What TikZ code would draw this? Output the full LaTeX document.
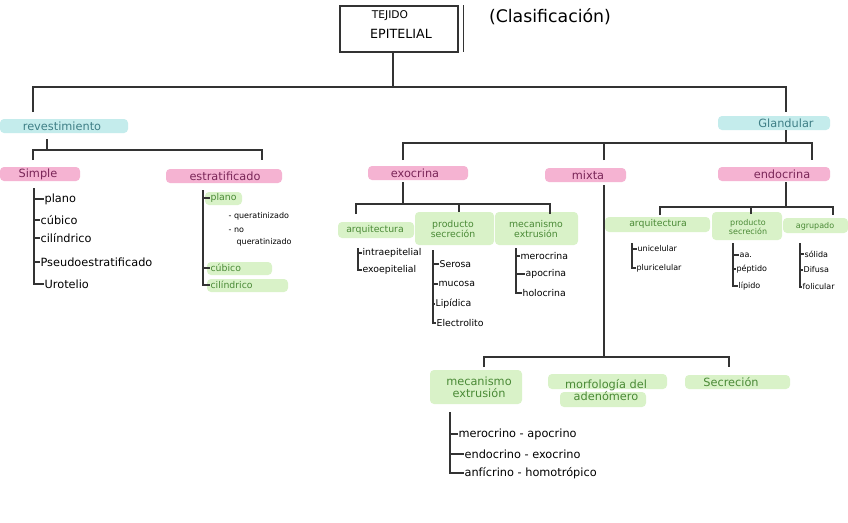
\documentclass[tikz,border=0pt]{standalone}
\usepackage{fontspec}
\setmainfont{DejaVu Sans}
\definecolor{cyb}{HTML}{C4ECEC}
\definecolor{pkb}{HTML}{F5B3D2}
\definecolor{grb}{HTML}{D9F2C8}
\definecolor{cyt}{HTML}{3F7F86}
\definecolor{pkt}{HTML}{7A2658}
\definecolor{grt}{HTML}{4A8A36}
\definecolor{ln}{HTML}{333333}
\begin{document}
\begin{tikzpicture}[x=0.75pt,y=-0.75pt,line width=0.9pt,
  conn/.style={draw=ln,line width=0.9pt},
  band/.style={rounded corners=3pt},
  fa/.style={inner sep=0pt,font=\fontsize{8.5}{9}\selectfont},
  fb/.style={inner sep=0pt,font=\fontsize{7}{8}\selectfont},
  fc/.style={inner sep=0pt,font=\fontsize{6}{7}\selectfont},
  itm/.style={anchor=west},
  cyh/.style={fa,text=cyt},
  pkh/.style={fa,text=pkt},
  grh/.style={fb,text=grt,align=center}]
\useasboundingbox (0,0) rectangle (848,522);
\fill[white] (0,0) rectangle (848,522);
% highlight bands
\fill[cyb,band] (0,119) rectangle (128,133);
\fill[cyb,band] (718,116) rectangle (830,130);
\fill[pkb,band] (0,167) rectangle (80,181);
\fill[pkb,band] (166,169) rectangle (282,183);
\fill[pkb,band] (368,166) rectangle (468,180);
\fill[pkb,band] (545,168) rectangle (626,182);
\fill[pkb,band] (718,167) rectangle (830,181);
\fill[grb,band] (205,192) rectangle (242,205);
\fill[grb,band] (207,262) rectangle (272,275);
\fill[grb,band] (207,279) rectangle (288,292);
\fill[grb,band] (338,222) rectangle (414,238);
\fill[grb,band] (415,212) rectangle (494,245);
\fill[grb,band] (495,212) rectangle (578,245);
\fill[grb,band] (605,217) rectangle (710,232);
\fill[grb,band] (712,212) rectangle (782,240);
\fill[grb,band] (783,218) rectangle (848,233);
\fill[grb,band] (430,370) rectangle (522,404);
\fill[grb,band] (548,374) rectangle (667,389);
\fill[grb,band] (560,392) rectangle (646,407);
\fill[grb,band] (685,375) rectangle (790,389);

% title
\node[draw=ln,line width=0.8pt,minimum width=88.5pt,minimum height=34.5pt,inner sep=0pt] (t) at (399,29) {};
\node[inner sep=0pt,font=\fontsize{8}{9}\selectfont] (t1) at (390,16) {TEJIDO};
\node[inner sep=0pt,font=\fontsize{9.5}{10}\selectfont] (t2) at (401,34) {EPITELIAL};
\draw[ln,line width=0.7pt] (463,5) -- (463,52);
\node[inner sep=0pt,font=\fontsize{13}{14}\selectfont] (cl) at (550,17) {(Clasificación)};

% level 1
\node[cyh] (rev) at (62,126) {revestimiento};
\node[cyh] (gla) at (786,123) {Glandular};
\coordinate (h0) at (393,87);
\coordinate (revtop) at (33,112);
\coordinate (glatop) at (786,112);
\draw[conn] ([xshift=-4.5pt]t.south) -- (h0);
\draw[conn] (revtop) |- (h0) -| (glatop);

% revestimiento
\node[pkh] (sim) at (38,174) {Simple};
\node[pkh] (est) at (225,176) {estratificado};
\coordinate (r1) at (47,139);
\coordinate (r2) at (47,150);
\coordinate (simtop) at (33,160);
\coordinate (esttop) at (262,160);
\draw[conn] (r1) -- (r2);
\draw[conn] (simtop) |- (r2) -| (esttop);

% simple list
\coordinate (s1a) at (34,188);
\node[fa,itm] (sp1) at (44,199) {plano};
\node[fa,itm] (sp2) at (40,220) {cúbico};
\node[fa,itm] (sp3) at (40,238) {cilíndrico};
\node[fa,itm] (sp4) at (40,262) {Pseudoestratificado};
\node[fa,itm] (sp5) at (44,284) {Urotelio};
\draw[conn] (s1a) |- (sp5.west);
\foreach \n in {sp1,sp2,sp3,sp4} \draw[conn] (s1a |- \n.west) -- (\n.west);

% estratificado list
\coordinate (s2a) at (203,190);
\node[fb,itm,text=grt] (ep1) at (210,198) {plano};
\node[fc,itm] (ep2) at (228,216) {- queratinizado};
\node[fc,itm] (ep3) at (228,230) {- no};
\node[fc,itm] (ep4) at (236,242) {queratinizado};
\node[fb,itm,text=grt] (ep5) at (210,268) {cúbico};
\node[fb,itm,text=grt] (ep6) at (210,285) {cilíndrico};
\draw[conn] (s2a) |- (ep6.west);
\foreach \n in {ep1,ep5} \draw[conn] (s2a |- \n.west) -- (\n.west);

% glandular
\node[pkh] (exo) at (415,173) {exocrina};
\node[pkh] (mix) at (588,175) {mixta};
\node[pkh] (endo) at (782,174) {endocrina};
\coordinate (g1) at (786,130);
\coordinate (g2) at (786,143);
\coordinate (exotop) at (403,160);
\coordinate (mixtop) at (604,160);
\coordinate (endtop) at (812,160);
\draw[conn] (g1) -- (g2);
\draw[conn] (exotop) |- (g2) -| (endtop);
\draw[conn] (mixtop) -- (mixtop |- g2);

% exocrina
\coordinate (e1) at (403,182);
\coordinate (e2) at (403,204);
\coordinate (ea) at (356,214);
\coordinate (eb) at (459,212);
\coordinate (ec) at (550,214);
\draw[conn] (e1) -- (e2);
\draw[conn] (ea) |- (e2) -| (ec);
\draw[conn] (eb) -- (eb |- e2);
\node[grh] (xa) at (375,230) {arquitectura};
\node[grh] (xb) at (453,229) {producto\\secreción};
\node[grh] (xc) at (536,229) {mecanismo\\extrusión};

\coordinate (s3a) at (358,248);
\node[fb,itm] (xa1) at (362,253) {intraepitelial};
\node[fb,itm] (xa2) at (362,270) {exoepitelial};
\draw[conn] (s3a) |- (xa2.west);
\draw[conn] (s3a |- xa1.west) -- (xa1.west);

\coordinate (s4a) at (433,250);
\node[fb,itm] (xb1) at (439,264) {Serosa};
\node[fb,itm] (xb2) at (438,284) {mucosa};
\node[fb,itm] (xb3) at (435,304) {Lipídica};
\node[fb,itm] (xb4) at (436,323) {Electrolito};
\draw[conn] (s4a) |- (xb4.west);
\foreach \n in {xb1,xb2,xb3} \draw[conn] (s4a |- \n.west) -- (\n.west);

\coordinate (s5a) at (516,248);
\node[fb,itm] (xc1) at (520,256) {merocrina};
\node[fb,itm] (xc2) at (525,274) {apocrina};
\node[fb,itm] (xc3) at (522,293) {holocrina};
\draw[conn] (s5a) |- (xc3.west);
\foreach \n in {xc1,xc2} \draw[conn] (s5a |- \n.west) -- (\n.west);

% mixta
\coordinate (m1) at (604,185);
\coordinate (m2) at (604,357);
\coordinate (ma) at (484,367);
\coordinate (mc) at (729,367);
\draw[conn] (m1) -- (m2);
\draw[conn] (ma) |- (m2) -| (mc);
\node[fa,text=grt,align=center] (ya) at (479,387) {mecanismo\\extrusión};
\node[fa,text=grt,align=center] (yb) at (606,390) {morfología del\\adenómero};
\node[fa,text=grt] (yc) at (731,382) {Secreción};

\coordinate (s6a) at (450,412);
\node[fa,itm] (ya1) at (458,434) {merocrino - apocrino};
\node[fa,itm] (ya2) at (464,454) {endocrino - exocrino};
\node[fa,itm] (ya3) at (464,473) {anfícrino - homotrópico};
\draw[conn] (s6a) |- (ya3.west);
\foreach \n in {ya1,ya2} \draw[conn] (s6a |- \n.west) -- (\n.west);

% endocrina
\coordinate (n1) at (786,182);
\coordinate (n2) at (786,207);
\coordinate (na) at (660,215);
\coordinate (nb) at (751,214);
\coordinate (nc) at (833,215);
\draw[conn] (n1) -- (n2);
\draw[conn] (na) |- (n2) -| (nc);
\draw[conn] (nb) -- (nb |- n2);
\node[grh] (za) at (658,224) {arquitectura};
\node[grh,font=\fontsize{6}{7}\selectfont] (zb) at (748,227) {producto\\secreción};
\node[grh,font=\fontsize{6}{7}\selectfont] (zc) at (815,226) {agrupado};

\coordinate (s7a) at (632,243);
\node[fc,itm] (za1) at (637,249) {unicelular};
\node[fc,itm] (za2) at (636,268) {pluricelular};
\draw[conn] (s7a) |- (za2.west);
\draw[conn] (s7a |- za1.west) -- (za1.west);

\coordinate (s8a) at (733,243);
\node[fc,itm] (zb1) at (739,255) {aa.};
\node[fc,itm] (zb2) at (736,269) {péptido};
\node[fc,itm] (zb3) at (738,286) {lípido};
\draw[conn] (s8a) |- (zb3.west);
\foreach \n in {zb1,zb2} \draw[conn] (s8a |- \n.west) -- (\n.west);

\coordinate (s9a) at (800,243);
\node[fc,itm] (zc1) at (804,254) {sólida};
\node[fc,itm] (zc2) at (803,270) {Difusa};
\node[fc,itm] (zc3) at (802,287) {folicular};
\draw[conn] (s9a) |- (zc3.west);
\foreach \n in {zc1,zc2} \draw[conn] (s9a |- \n.west) -- (\n.west);
\end{tikzpicture}
\end{document}
